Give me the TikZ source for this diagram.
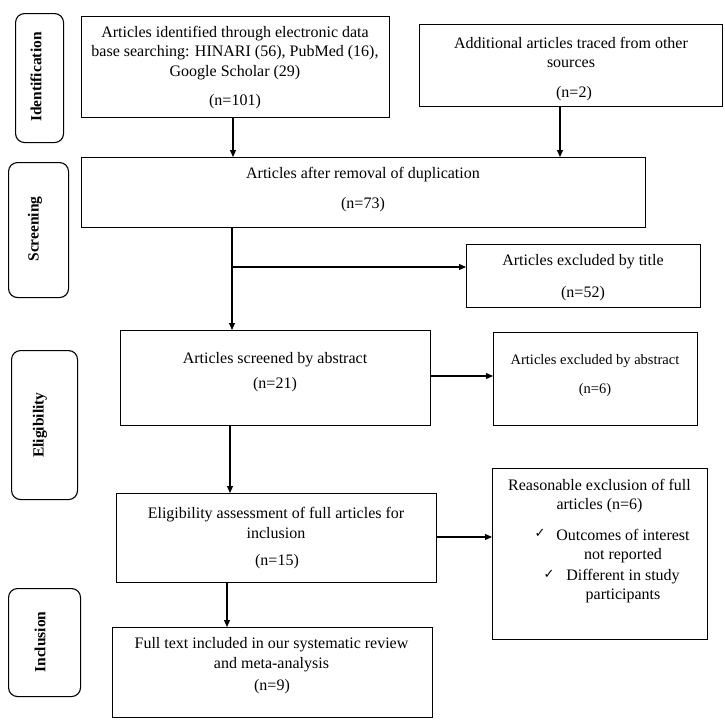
\documentclass[tikz,border=0pt]{standalone}
\usepackage{fontspec}
\setmainfont{Liberation Serif}
\newfontfamily\checkfont{DejaVu Sans}
\usetikzlibrary{arrows.meta,calc}
\begin{document}
\begin{tikzpicture}[x=1pt,y=-1pt,
  box/.style={draw, line width=1.1pt, inner sep=0pt, anchor=north west},
  side/.style={draw, line width=1.1pt, inner sep=0pt, anchor=north west, rounded corners=9pt},
  sidetext/.style={rotate=90, font=\bfseries\fontsize{15.5}{18}\selectfont, inner sep=0pt},
  txt/.style={align=center, inner sep=0pt, yshift=-2pt, font=\fontsize{16}{19.5}\selectfont},
  smalltxt/.style={align=center, inner sep=0pt, yshift=-2pt, font=\fontsize{14.5}{18}\selectfont},
  chk/.style={inner sep=0pt, font=\checkfont\fontsize{13}{15}\selectfont},
  arr/.style={line width=1.1pt, -{Triangle[length=7pt,width=6pt]}},
  ln/.style={line width=1.1pt}]
\useasboundingbox (0,0) rectangle (724,726);
% side labels
\node[side, minimum width=48pt, minimum height=129pt] (ident) at (15,13) {};
\node[sidetext] (identt) at (36,77) {Identification};
\node[side, minimum width=60pt, minimum height=135pt] (screen) at (8,162) {};
\node[sidetext] (screent) at (35,229) {Screening};
\node[side, minimum width=66pt, minimum height=149pt] (elig) at (11,350) {};
\node[sidetext] (eligt) at (40,425) {Eligibility};
\node[side, minimum width=72pt, minimum height=108pt] (incl) at (8,588) {};
\node[sidetext] (inclt) at (40,642) {Inclusion};
% boxes
\node[box, minimum width=308pt, minimum height=101pt] (box1) at (81,16) {};
\node[txt] (box1a) at (235,51) {Articles identified through electronic data\\base searching: HINARI (56), PubMed (16),\\Google Scholar (29)};
\node[txt] (box1b) at (235,100) {(n=101)};
\node[box, minimum width=303pt, minimum height=82pt] (box2) at (419,24) {};
\node[txt] (box2a) at (571,50.5) {Additional articles traced from other\\sources};
\node[txt] (box2b) at (574,92) {(n=2)};
\node[box, minimum width=564pt, minimum height=70pt] (box3) at (81,157) {};
\node[txt] (box3a) at (363,173) {Articles after removal of duplication};
\node[txt] (box3b) at (363,203) {(n=73)};
\node[box, minimum width=234pt, minimum height=63pt] (title) at (466,244) {};
\node[txt] (titlea) at (583,260) {Articles excluded by title};
\node[txt] (titleb) at (583,292) {(n=52)};
\node[box, minimum width=310pt, minimum height=95pt] (box4) at (120,330) {};
\node[txt] (box4a) at (275,358) {Articles screened by abstract};
\node[txt] (box4b) at (275,383) {(n=21)};
\node[box, minimum width=204pt, minimum height=93pt] (exabs) at (493,332) {};
\node[smalltxt] (exabsa) at (595,359) {Articles excluded by abstract};
\node[smalltxt] (exabsb) at (595,388) {(n=6)};
\node[box, minimum width=320pt, minimum height=89pt] (box5) at (116,493) {};
\node[txt] (box5a) at (276,521) {Eligibility assessment of full articles for\\inclusion};
\node[txt] (box5b) at (277,560) {(n=15)};
\node[box, minimum width=215pt, minimum height=171pt] (reas) at (492,468) {};
\node[txt] (reasa) at (599.5,494) {Reasonable exclusion of full\\articles (n=6)};
\node[chk] (chk1) at (540,533) {✓};
\node[txt] (reasb) at (623,544) {Outcomes of interest\\not reported};
\node[chk] (chk2) at (549,574) {✓};
\node[txt] (reasc) at (623,584) {Different in study\\participants};
\node[box, minimum width=320pt, minimum height=90pt] (box6) at (112,627) {};
\node[txt] (box6a) at (271.5,652.5) {Full text included in our systematic review\\and meta-analysis};
\node[txt] (box6b) at (272,685) {(n=9)};
% connectors
\coordinate (s1) at (233,0);
\draw[arr] (s1 |- box1.south) -- (s1 |- box3.north);
\coordinate (s2) at (560,0);
\draw[arr] (s2 |- box2.south) -- (s2 |- box3.north);
\coordinate (s3) at (232,0);
\coordinate (br) at (232,267);
\draw[ln] (s3 |- box3.south) -- (br);
\draw[arr] (br) -- (s3 |- box4.north);
\draw[arr] (br) -- (br -| title.west);
\coordinate (s4) at (0,376);
\draw[arr] (s4 -| box4.east) -- (s4 -| exabs.west);
\coordinate (s5) at (230,0);
\draw[arr] (s5 |- box4.south) -- (s5 |- box5.north);
\coordinate (s6) at (0,537);
\draw[arr] (s6 -| box5.east) -- (s6 -| reas.west);
\coordinate (s7) at (227,0);
\draw[arr] (s7 |- box5.south) -- (s7 |- box6.north);
\end{tikzpicture}
\end{document}
